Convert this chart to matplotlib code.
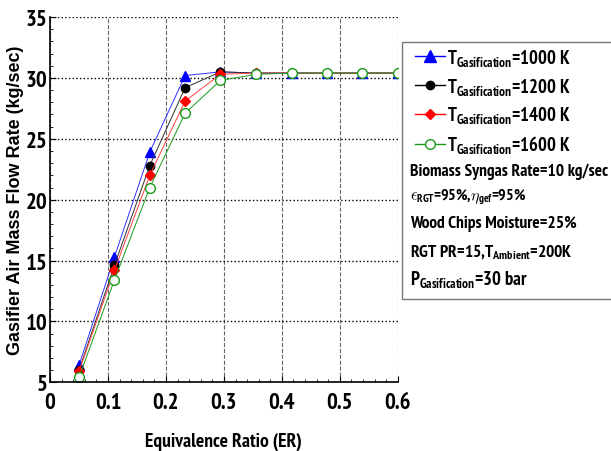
import matplotlib
matplotlib.use("Agg")
import matplotlib.pyplot as plt
from matplotlib.lines import Line2D
from matplotlib.patches import Rectangle

NARROW = ['PT Sans Narrow', 'Liberation Sans', 'DejaVu Sans']
WIDE = ['Liberation Sans', 'DejaVu Sans']

plt.rcParams['font.family'] = NARROW
plt.rcParams['font.weight'] = 'bold'
plt.rcParams['mathtext.fontset'] = 'custom'
plt.rcParams['mathtext.rm'] = 'PT Sans Narrow:bold'
plt.rcParams['mathtext.bf'] = 'PT Sans Narrow:bold'
plt.rcParams['mathtext.it'] = 'PT Sans Narrow:bold'

# equivalence ratio sweep
er = [0.05, 0.111, 0.172, 0.233, 0.294, 0.356, 0.417, 0.478, 0.539, 0.6]

# gasifier air mass flow (kg/sec) per gasification temperature
air_1000 = [6.4, 15.3, 23.9, 30.2, 30.5, 30.4, 30.4, 30.4, 30.4, 30.4]
air_1200 = [6.0, 14.6, 22.8, 29.2, 30.5, 30.4, 30.4, 30.4, 30.4, 30.4]
air_1400 = [5.9, 14.2, 22.0, 28.1, 30.3, 30.4, 30.4, 30.4, 30.4, 30.4]
air_1600 = [5.4, 13.4, 21.0, 27.1, 29.8, 30.3, 30.4, 30.4, 30.4, 30.4]

series_labels = [r'T$_{\mathrm{Gasification}}$=1000 K',
                 r'T$_{\mathrm{Gasification}}$=1200 K',
                 r'T$_{\mathrm{Gasification}}$=1400 K',
                 r'T$_{\mathrm{Gasification}}$=1600 K']

notes = ['Biomass Syngas Rate=10 kg/sec',
         r'$\epsilon_{\mathrm{RGT}}$=95%,$\eta_{\mathrm{gef}}$=95%',
         'Wood Chips Moisture=25%',
         r'RGT PR=15,T$_{\mathrm{Ambient}}$=200K',
         r'P$_{\mathrm{Gasification}}$=30 bar']

fig = plt.figure(figsize=(6.11, 4.52), dpi=100)
ax = fig.add_axes([0.082, 0.152, 0.569, 0.808])

ax.plot(er, air_1000, '-^', color='#3030ff', lw=0.7, ms=7, mec='blue', mfc='blue')
ax.plot(er, air_1200, '-o', color='#303030', lw=0.7, ms=6, mec='black', mfc='black')
ax.plot(er, air_1400, '-D', color='#ff4040', lw=0.7, ms=5, mec='red', mfc='red')
ax.plot(er, air_1600, '-o', color='#1a9a1a', lw=0.7, ms=7, mec='#1a9a1a', mfc='white')

ax.set_xlim(0, 0.6)
ax.set_ylim(5, 35)
ax.set_xticks([0, 0.1, 0.2, 0.3, 0.4, 0.5, 0.6])
ax.set_xticklabels(['0', '0.1', '0.2', '0.3', '0.4', '0.5', '0.6'])
ax.set_yticks([5, 10, 15, 20, 25, 30, 35])
ax.set_xticks([i * 0.02 for i in range(31)], minor=True)
ax.set_yticks(range(5, 36), minor=True)
ax.tick_params(which='both', direction='in', labelsize=16.5)
ax.tick_params(which='major', length=4)
ax.tick_params(which='minor', length=2.5)
ax.tick_params(axis='y', pad=2)
ax.tick_params(axis='x', pad=7)

ax.xaxis.grid(True, ls='--', color='#666666', lw=0.8)
ax.yaxis.grid(True, ls=':', color='black', lw=1.0)
ax.spines['top'].set_visible(False)
ax.spines['right'].set_visible(False)
ax.spines['left'].set_linewidth(1.2)
ax.spines['bottom'].set_linewidth(1.2)

ax.set_xlabel('Equivalence Ratio (ER)', fontsize=14, fontweight='bold')
ax.xaxis.set_label_coords(0.5, -0.135)
ax.set_ylabel('Gasifier Air Mass Flow Rate (kg/sec)', fontsize=13,
              fontweight='bold', family=WIDE)
ax.yaxis.set_label_coords(-0.074, 0.5)

# legend box on the right
fig.add_artist(Rectangle((402 / 611, 1 - 300 / 452), 0.4, (300 - 43) / 452,
                         transform=fig.transFigure, fill=False,
                         edgecolor='#777777', lw=1.0))

handles = [
    Line2D([], [], color='blue', marker='^', ms=8, lw=1),
    Line2D([], [], color='black', marker='o', ms=6, lw=1),
    Line2D([], [], color='red', marker='D', ms=5, lw=1),
    Line2D([], [], color='#1a9a1a', marker='o', ms=7, mfc='white', lw=1),
]
fig.legend(handles, series_labels, loc='upper left',
           bbox_to_anchor=(411 / 611, 1 - 44 / 452), frameon=False,
           fontsize=13.5, handlelength=1.6, handletextpad=0.1,
           labelspacing=0.42, borderpad=0.2, borderaxespad=0)

note_y = [172, 197, 224, 253, 280]
note_size = [12.5, 11.5, 12.5, 12.5, 13.5]
for txt, yy, sz in zip(notes, note_y, note_size):
    fig.text(410 / 611, 1 - yy / 452, txt, fontsize=sz, fontweight='bold',
             va='center', ha='left')

fig.savefig('out.png', dpi=100)
